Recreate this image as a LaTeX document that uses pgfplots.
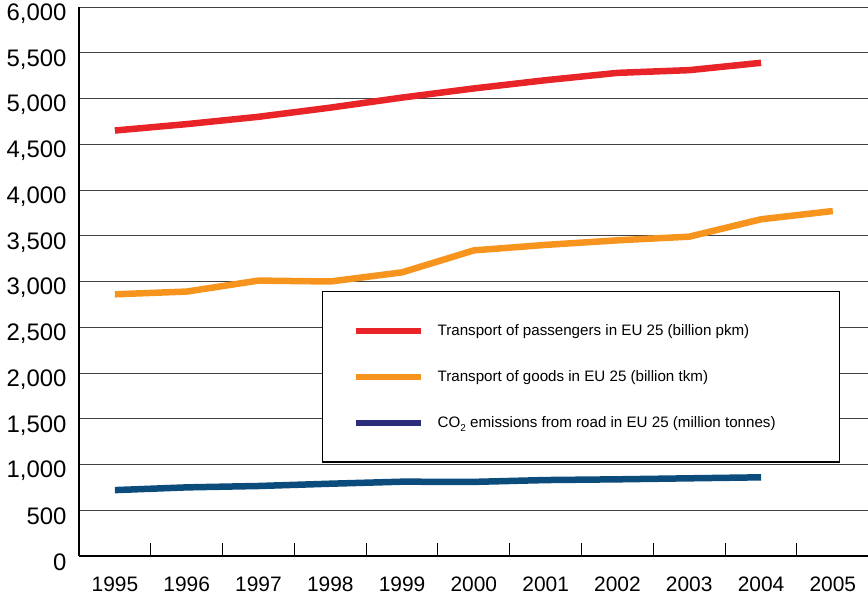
\documentclass[border=0pt]{standalone}
\usepackage{fontspec}
\setmainfont{Liberation Sans}
\usepackage{pgfplots}
\pgfplotsset{compat=1.18}
\definecolor{cred}{RGB}{232,36,40}
\definecolor{corange}{RGB}{247,148,30}
\definecolor{cblue}{RGB}{12,76,124}
\definecolor{cnavy}{RGB}{43,45,122}
\begin{document}
\begin{tikzpicture}
\useasboundingbox (-79bp,-44bp) rectangle (789bp,556bp);
\begin{axis}[
  at={(0,0)}, anchor=south west,
  scale only axis, width=789bp, height=549bp,
  xmin=-0.5, xmax=10.49, ymin=0, ymax=6000,
  axis lines=left, axis line style={-, line width=1.4bp, black},
  xtick={0,1,2,3,4,5,6,7,8,9,10},
  xticklabels={1995,1996,1997,1998,1999,2000,2001,2002,2003,2004,2005},
  minor xtick={0.5,1.5,2.5,3.5,4.5,5.5,6.5,7.5,8.5,9.5},
  major tick length=0pt, minor tick length=13bp, tick align=inside,
  minor tick style={black, line width=1bp},
  ytick={0,500,...,6000},
  scaled y ticks=false,
  ymajorgrids, major grid style={black!75, line width=0.9bp},
  yticklabel style={font=\fontsize{24}{28}\selectfont, /pgf/number format/1000 sep={,}, /pgf/number format/assume math mode=true, xshift=-9bp, yshift=-6.5bp},
  xticklabel style={font=\fontsize{21}{24}\selectfont, yshift=-17bp},
  legend image code/.code={\draw[#1, line width=6bp] (0bp,0bp) -- (65bp,0bp);},
  legend style={at={(0.308,0.4827)}, anchor=north west, draw=black, line width=1.3bp, fill=white,
    inner xsep=30bp, inner ysep=31bp, row sep=29.5bp,
    font=\fontsize{15.2}{18}\selectfont,
    /tikz/every odd column/.append style={column sep=12bp}},
  legend cell align=left,
]
\addplot[cred, line width=6.5bp, forget plot] coordinates {
 (0,4650) (1,4720) (2,4800) (3,4900) (4,5010) (5,5110) (6,5200) (7,5280) (8,5310) (9,5390)};
\addplot[corange, line width=6.5bp, forget plot] coordinates {
 (0,2860) (1,2890) (2,3010) (3,3000) (4,3100) (5,3340) (6,3400) (7,3450) (8,3490) (9,3680) (10,3770)};
\addplot[cblue, line width=6.5bp, forget plot] coordinates {
 (0,720) (1,750) (2,765) (3,790) (4,812) (5,810) (6,830) (7,838) (8,849) (9,860)};
\addlegendimage{cred}
\addlegendentry{Transport of passengers in EU 25 (billion pkm)}
\addlegendimage{corange}
\addlegendentry{Transport of goods in EU 25 (billion tkm)}
\addlegendimage{cnavy}
\addlegendentry{CO\raisebox{-0.45ex}{\fontsize{10}{12}\selectfont 2} emissions from road in EU 25 (million tonnes)\makebox[32bp]{}}
\end{axis}
\end{tikzpicture}
\end{document}
